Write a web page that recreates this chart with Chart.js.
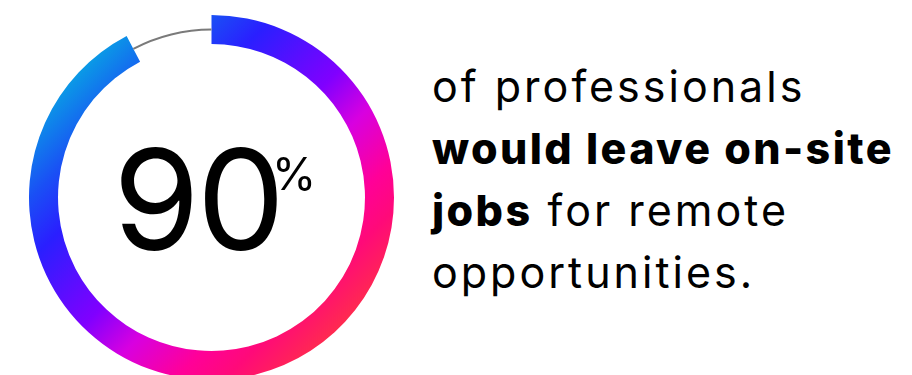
<!DOCTYPE html>
<html>
<head>
<meta charset="utf-8">
<script src="https://cdn.jsdelivr.net/npm/chart.js@4.4.1/dist/chart.umd.min.js"></script>
<style>
  html, body { margin: 0; padding: 0; width: 912px; height: 375px; overflow: hidden; background: #fff; }
  body { position: relative; font-family: Inter, "Noto Sans", sans-serif; color: #000; }
  canvas { position: absolute; left: 29px; top: 15px; }
  #big { position: absolute; left: 113px; top: 129px; font-size: 140px; line-height: 140px; font-weight: 400; letter-spacing: -3px; white-space: nowrap; }
  #pct { position: absolute; left: 272px; top: 151px; font-size: 45px; line-height: 45px; font-weight: 400; }
  #copy { position: absolute; left: 432px; top: 55px; font-size: 43px; line-height: 62px; letter-spacing: 3px; white-space: nowrap; }
  #copy b { font-weight: 800; letter-spacing: 2.4px; }
</style>
</head>
<body>
<canvas id="ring" width="365" height="365"></canvas>
<canvas id="rest" width="365" height="365"></canvas>
<div id="big"></div>
<div id="pct">%</div>
<div id="copy">
  of professionals<br>
  <b>would leave on-site</b><br>
  <b>jobs</b> for remote<br>
  opportunities.
</div>
<script>
// share (the label says 90, the drawn arc runs a bit past it)
const headline = "90";
const ringLabels = ["Would leave", "Would stay"];
const ringValues = [92.3, 7.7];

// gradient stops along the top-left -> bottom-right diagonal
const gradStops = [0, 0.15, 0.27, 0.5, 0.63, 0.78, 0.88, 1];
const gradColors = ["#0a9ae6", "#1a4ff5", "#2a1fff", "#8000ff", "#d800e0", "#ff0098", "#ff0a78", "#ff2a50"];

document.getElementById("big").textContent = headline;

function diagGradient(ctx) {
  const chart = ctx.chart;
  const area = chart.chartArea;
  if (!area) return null;
  const cx = (area.left + area.right) / 2;
  const cy = (area.top + area.bottom) / 2;
  const r = Math.min(area.width, area.height) / 2;
  const d = r / Math.SQRT2;
  const g = chart.ctx.createLinearGradient(cx - d, cy - d, cx + d, cy + d);
  gradStops.forEach((s, i) => g.addColorStop(s, gradColors[i]));
  return g;
}

const baseOpts = {
  responsive: false,
  animation: false,
  events: [],
  plugins: { legend: { display: false }, tooltip: { enabled: false } }
};

// ===== COLOURED BAND =====
new Chart(document.getElementById("ring"), {
  type: "doughnut",
  data: {
    labels: ringLabels,
    datasets: [{
      data: ringValues,
      backgroundColor: ctx => ctx.dataIndex === 0 ? diagGradient(ctx) : "rgba(0,0,0,0)",
      borderWidth: 0
    }]
  },
  options: Object.assign({}, baseOpts, { cutout: "84.1%" })
});

// ===== THIN GREY REMAINDER =====
// cutout is a share of the outer radius: 167 / 169
new Chart(document.getElementById("rest"), {
  type: "doughnut",
  data: {
    labels: ringLabels,
    datasets: [{
      data: ringValues,
      backgroundColor: ["rgba(0,0,0,0)", "#7a7a7a"],
      borderWidth: 0
    }]
  },
  options: Object.assign({}, baseOpts, { radius: 169, cutout: "98.8%" })
});
</script>
</body>
</html>
